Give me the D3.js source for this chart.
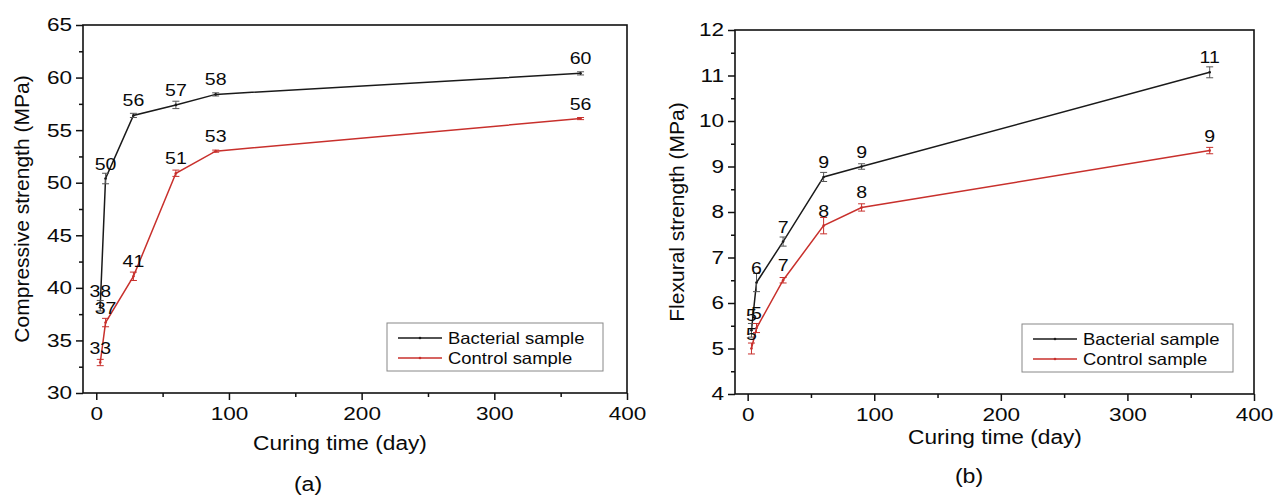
<!DOCTYPE html>
<html>
<head>
<meta charset="utf-8">
<script src="https://cdn.jsdelivr.net/npm/d3@7"></script>
<style>
  body { margin: 0; background: #fff; }
  svg text { font-family: "Liberation Sans", Arial, sans-serif; fill: #0a0a0a; }
</style>
</head>
<body>
<div id="chart"></div>
<script>
// curing days, shared by both panels
const days = [3, 7, 28, 60, 90, 365];

// compressive strength (MPa)
const compBacterial = [38.3, 50.4, 56.4, 57.4, 58.4, 60.4];
const compBacterialErr = [0.5, 0.5, 0.2, 0.35, 0.15, 0.15];
const compControl = [32.9, 36.7, 41.1, 50.9, 53.0, 56.1];
const compControlErr = [0.3, 0.4, 0.4, 0.3, 0.1, 0.1];

// flexural strength (MPa)
const flexBacterial = [5.4, 6.45, 7.35, 8.77, 9.0, 11.07];
const flexBacterialErr = [0.15, 0.2, 0.1, 0.1, 0.06, 0.12];
const flexControl = [5.0, 5.45, 6.5, 7.7, 8.1, 9.35];
const flexControlErr = [0.12, 0.1, 0.06, 0.18, 0.08, 0.07];

const xTicks = [0, 100, 200, 300, 400];
const xMinor = [50, 150, 250, 350];
const compTicks = [30, 35, 40, 45, 50, 55, 60, 65];
const flexTicks = [4, 5, 6, 7, 8, 9, 10, 11, 12];

const seriesNames = ['Bacterial sample', 'Control sample'];
const colors = ['#1a1a1a', '#c8302c'];

const svg = d3.select('#chart').append('svg')
  .attr('width', 1287)
  .attr('height', 495);

function buildPanel(cfg) {
  const x = d3.scaleLinear().domain([-10, 400]).range([cfg.left, cfg.right]);
  const y = d3.scaleLinear().domain(cfg.yDomain).range([cfg.bottom, cfg.top]);
  const g = svg.append('g');

  // minor ticks
  g.append('g').attr('transform', `translate(0,${cfg.bottom})`)
    .call(d3.axisBottom(x).tickValues(xMinor).tickSize(4).tickSizeOuter(0).tickFormat(''));
  g.append('g').attr('transform', `translate(${cfg.left},0)`)
    .call(d3.axisLeft(y).tickValues(cfg.yMinor).tickSize(4).tickSizeOuter(0).tickFormat(''));

  // major ticks + labels
  const xa = g.append('g').attr('transform', `translate(0,${cfg.bottom})`)
    .call(d3.axisBottom(x).tickValues(xTicks).tickSize(7).tickSizeOuter(0).tickPadding(7));
  const ya = g.append('g').attr('transform', `translate(${cfg.left},0)`)
    .call(d3.axisLeft(y).tickValues(cfg.yTicks).tickSize(7).tickSizeOuter(0).tickPadding(4));

  g.selectAll('.domain').remove();
  g.selectAll('.tick line').attr('stroke', '#111').attr('stroke-width', 1.5);
  xa.selectAll('text').attr('font-size', 18.5)
    .attr('transform', 'scale(1.22,1)');
  ya.selectAll('text').attr('font-size', 18.5)
    .attr('x', -11 / 1.22)
    .attr('transform', 'scale(1.22,1)');

  // frame
  g.append('rect')
    .attr('x', cfg.left).attr('y', cfg.top)
    .attr('width', cfg.right - cfg.left).attr('height', cfg.bottom - cfg.top)
    .attr('fill', 'none').attr('stroke', '#111').attr('stroke-width', 1.6);

  const line = d3.line().x(d => x(d.day)).y(d => y(d.v));

  cfg.series.forEach((s, i) => {
    const pts = days.map((day, j) => ({day: day, v: s.values[j], e: s.err[j]}));

    g.append('path').datum(pts)
      .attr('d', line)
      .attr('fill', 'none')
      .attr('stroke', colors[i])
      .attr('stroke-width', 1.5);

    const eb = g.append('g').selectAll('g').data(pts).enter().append('g')
      .attr('stroke', i === 0 ? '#555' : colors[i])
      .attr('stroke-width', 1);
    eb.append('line')
      .attr('x1', d => x(d.day)).attr('x2', d => x(d.day))
      .attr('y1', d => y(d.v - d.e)).attr('y2', d => y(d.v + d.e));
    eb.append('line')
      .attr('x1', d => x(d.day) - 3.5).attr('x2', d => x(d.day) + 3.5)
      .attr('y1', d => y(d.v + d.e)).attr('y2', d => y(d.v + d.e));
    eb.append('line')
      .attr('x1', d => x(d.day) - 3.5).attr('x2', d => x(d.day) + 3.5)
      .attr('y1', d => y(d.v - d.e)).attr('y2', d => y(d.v - d.e));

    g.append('g').selectAll('circle').data(pts).enter().append('circle')
      .attr('cx', d => x(d.day)).attr('cy', d => y(d.v))
      .attr('r', 1.3).attr('fill', colors[i]);

    // value labels
    g.append('g').selectAll('text').data(pts).enter().append('text')
      .attr('transform', d => `translate(${x(d.day)},${y(d.v) - 9}) scale(1.15,1)`)
      .attr('text-anchor', 'middle')
      .attr('font-size', 17)
      .text(d => Math.round(d.v));
  });

  // axis titles
  g.append('text')
    .attr('transform', `translate(${cfg.xTitle[0]},${cfg.xTitle[1]}) scale(1.08,1)`)
    .attr('text-anchor', 'middle').attr('font-size', 21)
    .text('Curing time (day)');
  g.append('text')
    .attr('transform', `translate(${cfg.yTitle[0]},${cfg.yTitle[1]}) rotate(-90)`)
    .attr('text-anchor', 'middle').attr('font-size', 21)
    .text(cfg.yLabel);
  g.append('text')
    .attr('transform', `translate(${cfg.tag[0]},${cfg.tag[1]}) scale(1.1,1)`)
    .attr('text-anchor', 'middle').attr('font-size', 21)
    .text(cfg.tagText);

  // legend
  const lg = g.append('g').attr('transform', `translate(${cfg.legend[0]},${cfg.legend[1]})`);
  lg.append('rect')
    .attr('width', cfg.legend[2]).attr('height', 48)
    .attr('fill', '#fff').attr('stroke', '#888').attr('stroke-width', 1);
  seriesNames.forEach((name, i) => {
    const ly = 15 + i * 20;
    lg.append('line')
      .attr('x1', 11).attr('x2', 55).attr('y1', ly).attr('y2', ly)
      .attr('stroke', colors[i]).attr('stroke-width', 1.5);
    lg.append('circle').attr('cx', 33).attr('cy', ly).attr('r', 1.3).attr('fill', colors[i]);
    lg.append('text')
      .attr('transform', `translate(61,${ly + 6}) scale(1.12,1)`)
      .attr('font-size', 16.5)
      .text(name);
  });
}

buildPanel({
  left: 83, right: 627, top: 25, bottom: 393,
  yDomain: [30, 65], yTicks: compTicks,
  yMinor: compTicks.slice(0, -1).map(t => t + 2.5),
  series: [
    {values: compBacterial, err: compBacterialErr},
    {values: compControl, err: compControlErr}
  ],
  yLabel: 'Compressive strength (MPa)',
  xTitle: [340, 450], yTitle: [29, 209],
  tag: [308, 491], tagText: '(a)',
  legend: [387, 323, 216]
});

buildPanel({
  left: 735, right: 1254, top: 30, bottom: 394,
  yDomain: [4, 12], yTicks: flexTicks,
  yMinor: flexTicks.slice(0, -1).map(t => t + 0.5),
  series: [
    {values: flexBacterial, err: flexBacterialErr},
    {values: flexControl, err: flexControlErr}
  ],
  yLabel: 'Flexural strength (MPa)',
  xTitle: [995, 444], yTitle: [684, 212],
  tag: [969, 483], tagText: '(b)',
  legend: [1022, 324, 211]
});
</script>
</body>
</html>
